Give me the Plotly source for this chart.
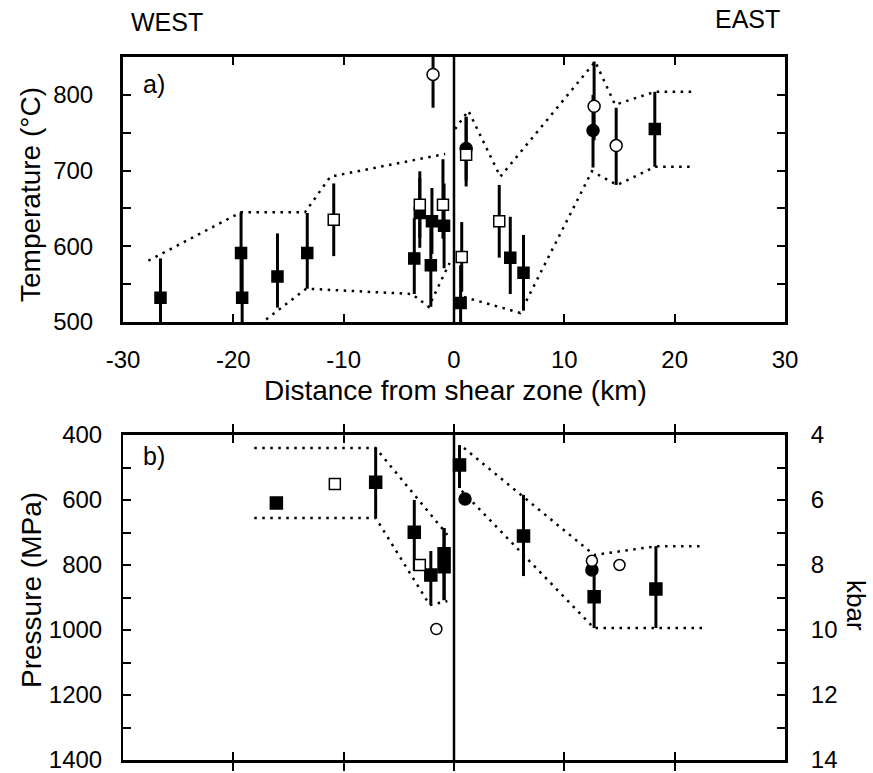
import plotly.graph_objects as go

# ---------------- DATA ----------------
# Panel a) Temperature (°C) vs distance (km)
ta_fsq_x = [-26.6, -19.3, -19.2, -16.0, -13.3, -3.6, -3.1, -2.0, -2.1, -0.9, 0.6, 5.1, 6.3, 18.2]
ta_fsq_t = [532, 591, 532, 560, 591, 584, 644, 633, 575, 627, 525, 585, 565, 755]
ta_fsq_hi = [584, 645, 587, 617, 644, 637, 690, 677, 625, 683, 575, 639, 615, 804]
ta_fsq_lo = [470, 536, 470, 519, 544, 537, 598, 590, 520, 571, 470, 537, 515, 705]

ta_osq_x = [-10.9, -3.1, -1.0, 0.7, 1.1, 4.1]
ta_osq_t = [635, 655, 655, 586, 721, 633]
ta_osq_hi = [683, 699, 715, 632, 771, 681]
ta_osq_lo = [587, 611, 610, 540, 679, 585]

ta_fci_x = [1.1, 12.6]
ta_fci_t = [729, 753]
ta_fci_hi = [771, 800]
ta_fci_lo = [687, 704]

ta_oci_x = [-1.9, 12.7, 14.7]
ta_oci_t = [827, 785, 733]
ta_oci_hi = [871, 844, 783]
ta_oci_lo = [783, 740, 681]

# envelopes (dotted)
ta_env_w_up_x = [-27.7, -19.3, -13.5, -11.2, -0.8]
ta_env_w_up_t = [581, 645, 645, 692, 722]
ta_env_w_lo_x = [-17.6, -13.4, -3.8, -2.3, -0.4]
ta_env_w_lo_t = [497, 544, 537, 520, 578]
ta_env_e_up_x = [0.1, 1.3, 4.2, 12.8, 14.6, 18.2, 21.6]
ta_env_e_up_t = [755, 779, 692, 844, 787, 804, 804]
ta_env_e_lo_x = [0.9, 6.0, 12.5, 14.8, 18.2, 21.6]
ta_env_e_lo_t = [533, 512, 699, 681, 705, 705]

# Panel b) Pressure (MPa) vs distance (km)
pb_fsq_x = [-16.1, -7.1, -3.6, -2.1, -0.9, -0.9, 0.5, 6.3, 12.7, 18.3]
pb_fsq_p = [609, 545, 699, 831, 765, 805, 492, 711, 898, 874]
pb_fsq_hi = [609, 655, 818, 923, 908, 908, 563, 834, 994, 994]
pb_fsq_lo = [609, 440, 600, 757, 686, 686, 431, 584, 778, 742]

pb_osq_x = [-10.8, -3.1]
pb_osq_p = [551, 800]
pb_fci_x = [1.0, 12.5]
pb_fci_p = [597, 815]
pb_oci_x = [-1.6, 12.5, 15.0]
pb_oci_p = [997, 787, 800]

pb_env_w_up_x = [-18.1, -7.1, -0.6]
pb_env_w_up_p = [440, 440, 707]
pb_env_w_lo_x = [-18.1, -7.1, -2.2, -0.6]
pb_env_w_lo_p = [655, 655, 923, 911]
pb_env_e_up_x = [0.9, 12.7, 18.4, 22.7]
pb_env_e_up_p = [440, 769, 742, 742]
pb_env_e_lo_x = [0.7, 12.7, 22.7]
pb_env_e_lo_p = [572, 994, 994]

x_ticks = [-30, -20, -10, 0, 10, 20, 30]
x_ticktext = ["-30", "-20", "-10", "0", "10", "20", "30"]
t_ticks = [500, 550, 600, 650, 700, 750, 800, 850]
t_ticktext = ["500", "", "600", "", "700", "", "800", ""]
p_ticks = [400, 500, 600, 700, 800, 900, 1000, 1100, 1200, 1300, 1400]
p_ticktext = ["400", "", "600", "", "800", "", "1000", "", "1200", "", "1400"]
kbar_ticks = [4, 5, 6, 7, 8, 9, 10, 11, 12, 13, 14]
kbar_ticktext = ["4", "", "6", "", "8", "", "10", "", "12", "", "14"]

# ---------------- FIGURE ----------------
W, H = 873, 773
ML, MR, MT, MB = 123, 88, 57, 13
PW, PH = W - ML - MR, H - MT - MB


def px(xp):
    return (xp - ML) / PW


def py(yp):
    return (H - MB - yp) / PH


FONT = "Liberation Sans, Arial, sans-serif"
fig = go.Figure()

DOT = "2.5px,5.5px"


def env(x, y, xa, ya):
    fig.add_trace(go.Scatter(x=x, y=y, mode="lines", xaxis=xa, yaxis=ya,
                             line=dict(color="black", width=2.5, dash=DOT),
                             hoverinfo="skip", showlegend=False))


for xs, ys in [(ta_env_w_up_x, ta_env_w_up_t), (ta_env_w_lo_x, ta_env_w_lo_t),
               (ta_env_e_up_x, ta_env_e_up_t), (ta_env_e_lo_x, ta_env_e_lo_t)]:
    env(xs, ys, "x", "y")
for xs, ys in [(pb_env_w_up_x, pb_env_w_up_p), (pb_env_w_lo_x, pb_env_w_lo_p),
               (pb_env_e_up_x, pb_env_e_up_p), (pb_env_e_lo_x, pb_env_e_lo_p)]:
    env(xs, ys, "x2", "y2")


def pts(x, y, hi, lo, symbol, fill, size, xa, ya):
    err = None
    if hi is not None:
        err = dict(type="data", symmetric=False,
                   array=[h - v for h, v in zip(hi, y)],
                   arrayminus=[v - l for v, l in zip(y, lo)],
                   color="black", thickness=3, width=0)
    fig.add_trace(go.Scatter(x=x, y=y, mode="markers", xaxis=xa, yaxis=ya,
                             error_y=err,
                             marker=dict(symbol=symbol, size=size, color=fill,
                                         line=dict(color="black", width=1.5)),
                             showlegend=False))


# panel a
pts(ta_fsq_x, ta_fsq_t, ta_fsq_hi, ta_fsq_lo, "square", "black", 11, "x", "y")
pts(ta_fci_x, ta_fci_t, ta_fci_hi, ta_fci_lo, "circle", "black", 12, "x", "y")
pts(ta_osq_x, ta_osq_t, ta_osq_hi, ta_osq_lo, "square", "white", 11, "x", "y")
pts(ta_oci_x, ta_oci_t, ta_oci_hi, ta_oci_lo, "circle", "white", 12, "x", "y")
# panel b
pts(pb_fsq_x, pb_fsq_p, pb_fsq_hi, pb_fsq_lo, "square", "black", 12, "x2", "y2")
pts(pb_fci_x, pb_fci_p, None, None, "circle", "black", 12, "x2", "y2")
pts(pb_osq_x, pb_osq_p, None, None, "square", "white", 11, "x2", "y2")
pts(pb_oci_x, pb_oci_p, None, None, "circle", "white", 11, "x2", "y2")

# dummy trace to activate kbar axis
fig.add_trace(go.Scatter(x=[None], y=[None], xaxis="x2", yaxis="y3", showlegend=False))

tickfont = dict(family=FONT, size=24, color="black")

top_bottom = py(322)
bot_top = py(435)

common = dict(ticks="inside", ticklen=8, tickwidth=2, tickcolor="black",
              showgrid=False, zeroline=False, automargin=False, linecolor="black",
              ticklabeloverflow="allow")

fig.update_layout(
    width=W, height=H,
    margin=dict(l=ML, r=MR, t=MT, b=MB, autoexpand=False),
    paper_bgcolor="white", plot_bgcolor="white",
    font=dict(family=FONT, color="black"),
    xaxis=dict(domain=[0, 1], anchor="y", range=[-30, 30], tickvals=x_ticks,
               ticktext=x_ticktext,
               showline=True, linewidth=3, mirror="allticks", tickfont=tickfont,
               ticklabelstandoff=14, **common),
    yaxis=dict(domain=[top_bottom, 1], anchor="x", range=[500, 850], tickvals=t_ticks,
               ticktext=t_ticktext,
               showline=True, linewidth=3, mirror="allticks", tickfont=tickfont,
               ticklabelstandoff=22, **common),
    xaxis2=dict(domain=[0, 1], anchor="y2", range=[-30, 30], tickvals=x_ticks,
                showticklabels=False,
                showline=True, linewidth=3, mirror="allticks", **common),
    yaxis2=dict(domain=[0, bot_top], anchor="x2", range=[1400, 400], tickvals=p_ticks,
                ticktext=p_ticktext,
                showline=True, linewidth=2, mirror=False, tickfont=tickfont,
                ticklabelstandoff=14, **common),
    yaxis3=dict(overlaying="y2", side="right", anchor="x2", range=[14, 4],
                tickvals=kbar_ticks, ticktext=kbar_ticktext,
                showline=True, linewidth=3, tickfont=tickfont,
                ticklabelstandoff=18, **common),
    shapes=[
        dict(type="line", xref="x", yref="y domain", x0=0, x1=0, y0=0, y1=1,
             line=dict(color="black", width=2.5)),
        dict(type="line", xref="x2", yref="y2 domain", x0=0, x1=0, y0=0, y1=1,
             line=dict(color="black", width=2.5)),
    ],
)

ann_font = dict(family=FONT, size=28, color="black")
annotations = [
    dict(text="Temperature (°C)", x=px(30), y=py(195), textangle=-90, font=ann_font),
    dict(text="Distance from shear zone (km)", x=px(455), y=py(390), font=dict(family=FONT, size=28, color="black")),
    dict(text="Pressure (MPa)", x=px(31), y=py(590), textangle=-90, font=ann_font),
    dict(text="kbar", x=px(856), y=py(605), textangle=90, font=dict(family=FONT, size=26, color="black")),
    dict(text="WEST", x=px(167), y=py(22), font=dict(family=FONT, size=25, color="black")),
    dict(text="EAST", x=px(747), y=py(19), font=dict(family=FONT, size=25, color="black")),
    dict(text="a)", x=px(154), y=py(84), font=dict(family=FONT, size=25, color="black")),
    dict(text="b)", x=px(154), y=py(456), font=dict(family=FONT, size=25, color="black")),
]
for a in annotations:
    a.update(xref="paper", yref="paper", showarrow=False, xanchor="center", yanchor="middle")
fig.update_layout(annotations=annotations)

fig.write_html("out.html", config={"displayModeBar": False},
               post_script="document.body.style.margin='0px';document.body.style.overflow='hidden';")
